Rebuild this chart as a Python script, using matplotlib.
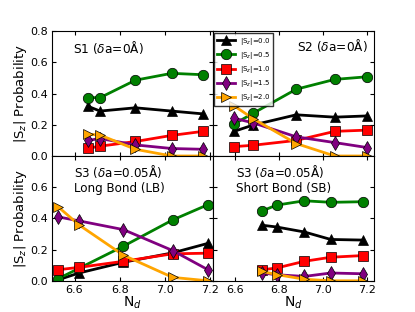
import numpy as np
import matplotlib
matplotlib.use("Agg")
import matplotlib.pyplot as plt

# N_d positions for each panel
nd_s1 = [6.66, 6.713, 6.869, 7.029, 7.167]
nd_s2 = [6.597, 6.685, 6.879, 7.054, 7.202]
nd_lb = [6.527, 6.62, 6.816, 7.033, 7.189]
nd_sb = [6.726, 6.79, 6.916, 7.036, 7.184]

# probabilities for |Sz| = 0.0, 0.5, 1.0, 1.5, 2.0
s1 = [[0.318, 0.288, 0.309, 0.288, 0.27],
      [0.374, 0.374, 0.486, 0.53, 0.521],
      [0.05, 0.063, 0.093, 0.132, 0.158],
      [0.10, 0.112, 0.071, 0.048, 0.043],
      [0.14, 0.134, 0.043, 0.0, 0.0]]
s2 = [[0.158, 0.199, 0.264, 0.249, 0.257],
      [0.205, 0.275, 0.428, 0.491, 0.508],
      [0.06, 0.069, 0.10, 0.158, 0.166],
      [0.242, 0.212, 0.123, 0.086, 0.054],
      [0.322, 0.238, 0.08, 0.0, 0.0]]
lb = [[0.006, 0.05, 0.119, 0.179, 0.24],
      [0.013, 0.08, 0.222, 0.39, 0.488],
      [0.071, 0.086, 0.125, 0.173, 0.177],
      [0.41, 0.384, 0.328, 0.194, 0.071],
      [0.475, 0.358, 0.164, 0.022, 0.0]]
sb = [[0.356, 0.345, 0.313, 0.265, 0.261],
      [0.449, 0.485, 0.513, 0.503, 0.507],
      [0.071, 0.082, 0.125, 0.151, 0.162],
      [0.05, 0.039, 0.028, 0.05, 0.045],
      [0.06, 0.04, 0.01, 0.0, 0.0]]

labels = ['|S$_z$|=0.0', '|S$_z$|=0.5', '|S$_z$|=1.0', '|S$_z$|=1.5', '|S$_z$|=2.0']
colors = ['black', 'green', 'red', 'purple', 'orange']
markers = ['^', 'o', 's', 'd', '>']

fig = plt.figure(figsize=(4.15, 3.12), dpi=100)
fig.subplots_adjust(left=0.125, right=0.9, top=0.9, bottom=0.1, wspace=0, hspace=0)
ax1 = fig.add_subplot(221)
ax2 = fig.add_subplot(222)
ax3 = fig.add_subplot(223)
ax4 = fig.add_subplot(224)

panels = [(ax1, nd_s1, s1), (ax2, nd_s2, s2), (ax3, nd_lb, lb), (ax4, nd_sb, sb)]
for ax, x, data in panels:
    for i in range(5):
        ax.plot(x, data[i], color=colors[i], marker=markers[i], lw=2,
                ms=7.5, mec='black', mew=0.5, label=labels[i])
    ax.set_ylim(0, 0.8)
    ax.tick_params(direction='in', top=True, right=True, labelsize=8,
                   length=3, pad=3)
    ax.set_xticks([6.6, 6.8, 7.0, 7.2])

ax1.set_xlim(6.5, 7.21)
ax3.set_xlim(6.5, 7.21)
ax2.set_xlim(6.5, 7.23)
ax4.set_xlim(6.5, 7.23)

ax1.set_xticklabels([])
ax2.set_xticklabels([])
ax2.set_yticklabels([])
ax4.set_yticklabels([])
ax1.set_yticks([0, 0.2, 0.4, 0.6, 0.8])
ax3.set_yticks([0, 0.2, 0.4, 0.6])
ax2.set_yticks([0, 0.2, 0.4, 0.6, 0.8])
ax4.set_yticks([0, 0.2, 0.4, 0.6])

for ax in (ax1, ax3):
    ax.set_ylabel('|S$_z$| Probability', fontsize=9.5, labelpad=1)
for ax in (ax3, ax4):
    ax.set_xlabel('N$_d$', fontsize=10, labelpad=0)

ax1.text(0.13, 0.94, 'S1 ($\\delta$a=0Å)', transform=ax1.transAxes,
         fontsize=8.7, va='top', ha='left')
ax2.text(0.965, 0.95, 'S2 ($\\delta$a=0Å)', transform=ax2.transAxes,
         fontsize=8.7, va='top', ha='right')
ax3.text(0.14, 0.945, 'S3 ($\\delta$a=0.05Å)\nLong Bond (LB)', transform=ax3.transAxes,
         fontsize=8.6, va='top', ha='left', linespacing=1.2)
ax4.text(0.145, 0.945, 'S3 ($\\delta$a=0.05Å)\nShort Bond (SB)', transform=ax4.transAxes,
         fontsize=8.6, va='top', ha='left', linespacing=1.2)

leg = ax2.legend(loc='upper left', fontsize=5, borderaxespad=0.25,
                 handlelength=2.5, labelspacing=0.45, fancybox=False,
                 borderpad=0.4)
leg.get_frame().set_edgecolor('black')

fig.savefig('out.png', dpi=100)
